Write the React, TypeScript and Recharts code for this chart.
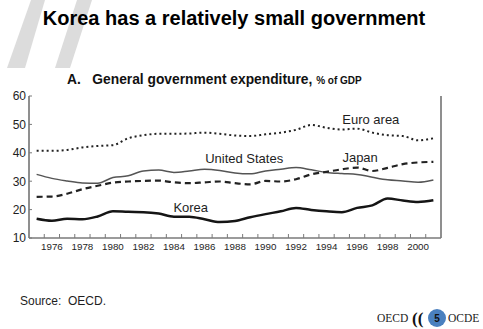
import React from 'react';
import { LineChart, Line, XAxis, YAxis, ReferenceDot, ReferenceLine } from 'recharts';

const years = [1975, 1976, 1977, 1978, 1979, 1980, 1981, 1982, 1983, 1984, 1985, 1986, 1987, 1988, 1989, 1990, 1991, 1992, 1993, 1994, 1995, 1996, 1997, 1998, 1999, 2000, 2001];
const euroArea = [40.7, 40.7, 41.0, 41.9, 42.4, 42.7, 45.1, 46.2, 46.7, 46.7, 46.8, 47.1, 46.7, 46.1, 45.9, 46.5, 47.1, 48.1, 49.8, 48.8, 48.2, 48.5, 47.1, 46.2, 45.9, 44.4, 45.1];
const unitedStates = [32.4, 31.0, 30.1, 29.4, 29.3, 31.3, 31.9, 33.6, 33.9, 33.1, 33.6, 34.2, 33.8, 32.9, 32.6, 33.6, 34.2, 34.8, 34.0, 33.1, 32.7, 32.4, 31.4, 30.5, 30.1, 29.6, 30.4];
const japan = [24.5, 24.6, 25.6, 27.2, 28.4, 29.5, 29.9, 30.1, 30.2, 29.6, 29.3, 29.6, 29.9, 29.3, 28.9, 30.1, 29.9, 30.7, 32.4, 33.3, 34.2, 34.8, 33.6, 34.7, 36.0, 36.6, 36.8];
const korea = [16.8, 16.1, 16.8, 16.6, 17.6, 19.4, 19.2, 19.1, 18.6, 17.5, 17.5, 16.6, 15.6, 16.0, 17.3, 18.4, 19.4, 20.6, 19.9, 19.4, 19.1, 20.6, 21.5, 23.9, 23.2, 22.7, 23.3];
const xTickLabels = [1976, 1978, 1980, 1982, 1984, 1986, 1988, 1990, 1992, 1994, 1996, 1998, 2000];
const xTickMarks = [1975.5, 1976.5, 1977.5, 1978.5, 1979.5, 1980.5, 1981.5, 1982.5, 1983.5, 1984.5, 1985.5, 1986.5, 1987.5, 1988.5, 1989.5, 1990.5, 1991.5, 1992.5, 1993.5, 1994.5, 1995.5, 1996.5, 1997.5, 1998.5, 1999.5, 2000.5];
const xDomain = [1974.5, 2001.5];
const yTicks = [10, 20, 30, 40, 50, 60];
const yDomain = [10, 60];

const seriesLabels = [
  { text: 'Euro area', x: 1996.9, y: 51.9 },
  { text: 'United States', x: 1988.6, y: 38.2 },
  { text: 'Japan', x: 1996.2, y: 38.5 },
  { text: 'Korea', x: 1985.1, y: 20.9 },
];

const data = years.map((year, i) => ({
  year,
  euro: euroArea[i],
  us: unitedStates[i],
  japan: japan[i],
  korea: korea[i],
}));

const xTicksAll = [...xTickMarks, ...xTickLabels].sort((a, b) => a - b);

const FONT = '"Liberation Sans", Arial, Helvetica, sans-serif';
const AXIS = '#7a7a7a';
const TEXT = '#1e1e1e';

const XTick = (props: any) => {
  const { x, y, payload } = props;
  const v = payload.value;
  if (Number.isInteger(v)) {
    return (
      <text x={x} y={y + 12.3} textAnchor="middle" fontSize={9.8} fill={TEXT} fontFamily={FONT}>{v}</text>
    );
  }
  return <line x1={x} y1={y} x2={x} y2={y - 4} stroke={AXIS} strokeWidth={1} />;
};

const YTickLeft = (props: any) => {
  const { x, y, payload } = props;
  return (
    <g>
      <line x1={x} y1={y} x2={x + 3} y2={y} stroke={AXIS} strokeWidth={1} />
      <text x={x - 3} y={y + 4.3} textAnchor="end" fontSize={12} fill={TEXT} fontFamily={FONT}>{payload.value}</text>
    </g>
  );
};

const YTickRight = (props: any) => {
  const { x, y, payload } = props;
  return (
    <g>
      <line x1={x} y1={y} x2={x - 3} y2={y} stroke={AXIS} strokeWidth={1} />
      <text x={x + 6} y={y + 4.3} textAnchor="start" fontSize={12} fill={TEXT} fontFamily={FONT}>{payload.value}</text>
    </g>
  );
};

export default function App() {
  return (
    <div style={{ position: 'absolute', left: 0, top: 0, width: 483, height: 329, background: '#fff', fontFamily: FONT, overflow: 'hidden' }}>
      <svg width={483} height={329} style={{ position: 'absolute', left: 0, top: 0 }}>
        <polygon points="31,0 45,0 25,68 7,68" fill="#dcdcdc" />
        <polygon points="77,0 92,0 70,68 55,68" fill="#dcdcdc" />
      </svg>
      <div style={{ position: 'absolute', left: 0, width: 468, top: 6, textAlign: 'center', fontSize: 20, fontWeight: 'bold', color: '#000', lineHeight: '24px' }}>
        Korea has a relatively small government
      </div>
      <div style={{ position: 'absolute', left: 67, top: 71, fontSize: 13.8, fontWeight: 'bold', color: '#111', lineHeight: '17px', whiteSpace: 'pre' }}>
        {'A.   General government expenditure, '}<span style={{ fontSize: 10 }}>% of GDP</span>
      </div>
      <div style={{ position: 'absolute', left: 0, top: 0 }}>
        <LineChart width={483} height={329} data={data} margin={{ top: 96, right: 0, bottom: 71, left: 0 }}>
          <XAxis xAxisId="x" type="number" dataKey="year" domain={xDomain} ticks={xTicksAll} allowDataOverflow height={20}
            tickSize={0} tickMargin={0} tickLine={false} axisLine={{ stroke: AXIS, strokeWidth: 1.2 }} tick={<XTick />} interval={0} />
          <YAxis yAxisId="l" orientation="left" domain={yDomain} ticks={yTicks} width={29}
            tickSize={0} tickMargin={0} tickLine={false} axisLine={{ stroke: AXIS, strokeWidth: 1.2 }} tick={<YTickLeft />} interval={0} />
          <YAxis yAxisId="r" orientation="right" domain={yDomain} ticks={yTicks} width={42}
            tickSize={0} tickMargin={0} tickLine={false} axisLine={{ stroke: AXIS, strokeWidth: 1.2 }} tick={<YTickRight />} interval={0} />
          <ReferenceLine xAxisId="x" yAxisId="l" x={xDomain[0]} stroke={AXIS} strokeWidth={1.2} />
          <ReferenceLine xAxisId="x" yAxisId="l" x={xDomain[1]} stroke={AXIS} strokeWidth={1.2} />
          <ReferenceLine xAxisId="x" yAxisId="l" y={yDomain[0]} stroke={AXIS} strokeWidth={1.2} />
          <Line xAxisId="x" yAxisId="l" type="monotone" dataKey="euro" stroke="#222" strokeWidth={2} strokeDasharray="2 3" dot={false} isAnimationActive={false} />
          <Line xAxisId="x" yAxisId="l" type="monotone" dataKey="us" stroke="#555" strokeWidth={1.5} dot={false} isAnimationActive={false} />
          <Line xAxisId="x" yAxisId="l" type="monotone" dataKey="japan" stroke="#222" strokeWidth={2.2} strokeDasharray="6 4" dot={false} isAnimationActive={false} />
          <Line xAxisId="x" yAxisId="l" type="monotone" dataKey="korea" stroke="#151515" strokeWidth={2.5} dot={false} isAnimationActive={false} />
          {seriesLabels.map((s) => (
            <ReferenceDot key={s.text} xAxisId="x" yAxisId="l" x={s.x} y={s.y} r={0} fill="none" stroke="none"
              label={{ value: s.text, position: 'center', fontSize: 13, fill: TEXT }} />
          ))}
        </LineChart>
      </div>
      <div style={{ position: 'absolute', left: 20, top: 294, fontSize: 12, color: TEXT, whiteSpace: 'pre', lineHeight: '15px' }}>
        {'Source:  OECD.'}
      </div>
      <svg width={483} height={329} style={{ position: 'absolute', left: 0, top: 0 }}>
        <text x={377} y={322} fontFamily='"Liberation Serif", "Times New Roman", serif' fontSize={11.5} fill="#222">OECD</text>
        <text x={412} y={324} fontFamily='"Liberation Serif", "Times New Roman", serif' fontSize={17} fontWeight="bold" fill="#111">((</text>
        <circle cx={437} cy={318} r={9} fill="#4a80bf" />
        <text x={437} y={322} textAnchor="middle" fontFamily={FONT} fontSize={10} fontWeight="bold" fill="#111">5</text>
        <text x={448} y={322} fontFamily='"Liberation Serif", "Times New Roman", serif' fontSize={11.5} fill="#222">OCDE</text>
      </svg>
    </div>
  );
}
